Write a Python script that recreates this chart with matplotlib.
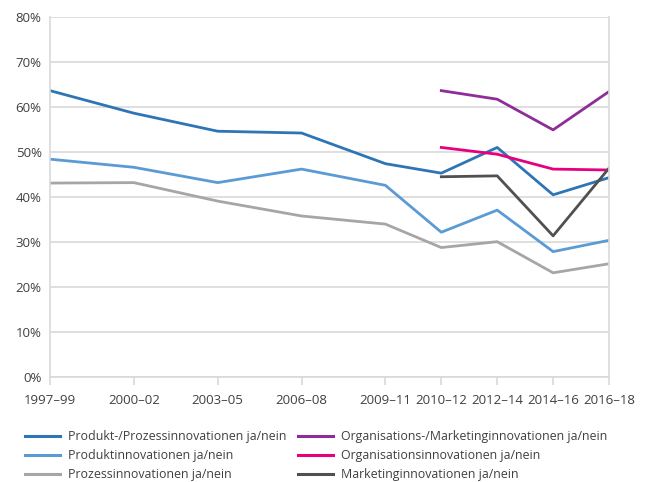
import numpy as np
import matplotlib
matplotlib.use("Agg")
import matplotlib.pyplot as plt
from matplotlib.lines import Line2D

plt.rcParams['font.family'] = ['Open Sans', 'DejaVu Sans']

# Zeitraeume (Achsenpositionen wie im Original: 3-Jahres-Abstand, dann 2-Jahres-Abstand)
periods = ["1997–99", "2000–02", "2003–05", "2006–08", "2009–11",
           "2010–12", "2012–14", "2014–16", "2016–18"]
period_pos = [0, 3, 6, 9, 12, 14, 16, 18, 20]

# Anteile in %
prod_proz = [63.6, 58.6, 54.6, 54.2, 47.4, 45.3, 51.0, 40.5, 44.3]
produkt = [48.4, 46.6, 43.2, 46.2, 42.6, 32.2, 37.1, 27.9, 30.4]
prozess = [43.1, 43.2, 39.1, 35.8, 34.0, 28.8, 30.1, 23.2, 25.2]

# ab 2010-12
late_pos = period_pos[5:]
org_mkt = [63.6, 61.7, 54.9, 63.4]
org = [51.0, 49.5, 46.2, 46.0]
mkt = [44.5, 44.7, 31.4, 46.4]

labels_left = ["Produkt-/Prozessinnovationen ja/nein",
               "Produktinnovationen ja/nein",
               "Prozessinnovationen ja/nein"]
labels_right = ["Organisations-/Marketinginnovationen ja/nein",
                "Organisationsinnovationen ja/nein",
                "Marketinginnovationen ja/nein"]

c_pp = "#2E75B6"
c_p = "#5B9BD5"
c_pz = "#A6A6A6"
c_om = "#8E2D99"
c_o = "#E6007E"
c_m = "#505050"
txt = "#404040"
grid = "#D9D9D9"

fig = plt.figure(figsize=(6.48, 4.82), dpi=100)
ax = fig.add_axes([50/648, 1-377.4/482, (609-50)/648, (377.4-16.7)/482])

lw = 2.0
ax.plot(period_pos, prod_proz, color=c_pp, lw=lw)
ax.plot(period_pos, produkt, color=c_p, lw=lw)
ax.plot(period_pos, prozess, color=c_pz, lw=lw)
ax.plot(late_pos, org_mkt, color=c_om, lw=lw)
ax.plot(late_pos, org, color=c_o, lw=lw)
ax.plot(late_pos, mkt, color=c_m, lw=lw)

ax.set_xlim(0, 20)
ax.set_ylim(0, 80)
ax.set_yticks(np.arange(0, 81, 10))
ax.set_yticklabels([f"{v}%" for v in range(0, 81, 10)])
ax.set_xticks(period_pos)
ax.set_xticklabels(periods)

ax.yaxis.grid(True, color=grid, lw=1.2)
ax.set_axisbelow(True)
ax.spines["top"].set_visible(False)
for s in ["left", "right", "bottom"]:
    ax.spines[s].set_color(grid)
    ax.spines[s].set_linewidth(1.2)

ax.tick_params(axis='y', length=0, pad=6, labelsize=9.5, labelcolor=txt)
ax.tick_params(axis='x', length=6, width=1.2, color=grid, pad=6,
               labelsize=9.5, labelcolor=txt)

# Legende in zwei Spalten
h_left = [Line2D([], [], color=c, lw=2.2) for c in (c_pp, c_p, c_pz)]
h_right = [Line2D([], [], color=c, lw=2.2) for c in (c_om, c_o, c_m)]
leg_kw = dict(loc='upper left', frameon=False, fontsize=8.9, handlelength=2.8,
              handletextpad=0.7, labelspacing=0.48, borderaxespad=0, borderpad=0,
              labelcolor=txt)
fig.legend(h_left, labels_left, bbox_to_anchor=(25/648, 1-430/482), **leg_kw)
fig.legend(h_right, labels_right, bbox_to_anchor=(298/648, 1-430/482), **leg_kw)

fig.savefig("out.png", dpi=100)
